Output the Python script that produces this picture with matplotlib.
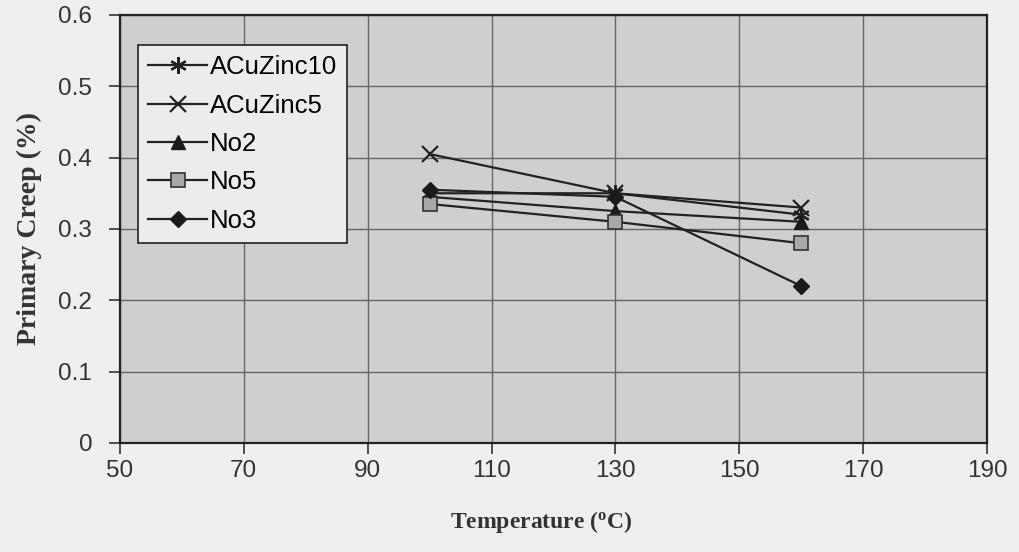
import matplotlib
matplotlib.use("Agg")
import matplotlib.pyplot as plt

# Primary creep versus test temperature for the five alloys
temperature = [100, 130, 160]
acuzinc10 = [0.350, 0.350, 0.320]
acuzinc5 = [0.405, 0.350, 0.330]
no2 = [0.345, 0.325, 0.310]
no5 = [0.335, 0.310, 0.280]
no3 = [0.355, 0.345, 0.220]

series = [
    ("ACuZinc10", acuzinc10, dict(marker=(6, 2, 0), markersize=12, markerfacecolor="#222222", markeredgecolor="#222222", markeredgewidth=1.6)),
    ("ACuZinc5", acuzinc5, dict(marker="x", markersize=11, markeredgecolor="#222222", markeredgewidth=1.6)),
    ("No2", no2, dict(marker="^", markersize=10, markerfacecolor="#1a1a1a", markeredgecolor="#1a1a1a")),
    ("No5", no5, dict(marker="s", markersize=10, markerfacecolor="#a8a8a8", markeredgecolor="#333333", markeredgewidth=1.2)),
    ("No3", no3, dict(marker="D", markersize=8, markerfacecolor="#1a1a1a", markeredgecolor="#1a1a1a")),
]

plt.rcParams.update({
    "font.family": ["Liberation Sans", "DejaVu Sans"],
    "font.size": 17.5,
})

fig = plt.figure(figsize=(10.2, 5.52), dpi=100, facecolor="#efefef")
ax = fig.add_axes([0.1176, 0.1975, 0.85, 0.7755])
ax.set_facecolor("#cfcfcf")

for name, vals, style in series:
    ax.plot(temperature, vals, color="#222222", linewidth=1.6, label=name, **style)

ax.set_xlim(50, 190)
ax.set_ylim(0, 0.6)
ax.set_xticks(range(50, 191, 20))
ax.set_yticks([0, 0.1, 0.2, 0.3, 0.4, 0.5, 0.6])
ax.set_yticklabels(["0", "0.1", "0.2", "0.3", "0.4", "0.5", "0.6"])
ax.grid(True, color="#666666", linewidth=1.0)
ax.set_axisbelow(True)
for sp in ax.spines.values():
    sp.set_color("#222222")
    sp.set_linewidth(1.6)
ax.tick_params(direction="out", length=8, width=1.2, colors="#333333")
ax.tick_params(axis="x", pad=4)
ax.tick_params(axis="y", pad=12)

ax.set_xlabel("Temperature ($\\mathregular{^o}$C)", family="Liberation Serif",
              fontweight="bold", fontsize=17, color="#333333")
ax.xaxis.set_label_coords(0.486, -0.155)
ax.set_ylabel("Primary Creep (%)", family="Liberation Serif",
              fontweight="bold", fontsize=20, labelpad=12, color="#333333")

leg = ax.legend(loc="upper left", bbox_to_anchor=(0.0208, 0.93), fontsize=18.5,
                frameon=True, fancybox=False, facecolor="#ececec", edgecolor="#222222",
                handlelength=2.3, handletextpad=0.1, labelspacing=0.56, borderpad=0.4,
                borderaxespad=0)
leg.get_frame().set_linewidth(1.2)
leg.get_frame().set_alpha(1)

fig.savefig("out.png", dpi=100, facecolor=fig.get_facecolor())
